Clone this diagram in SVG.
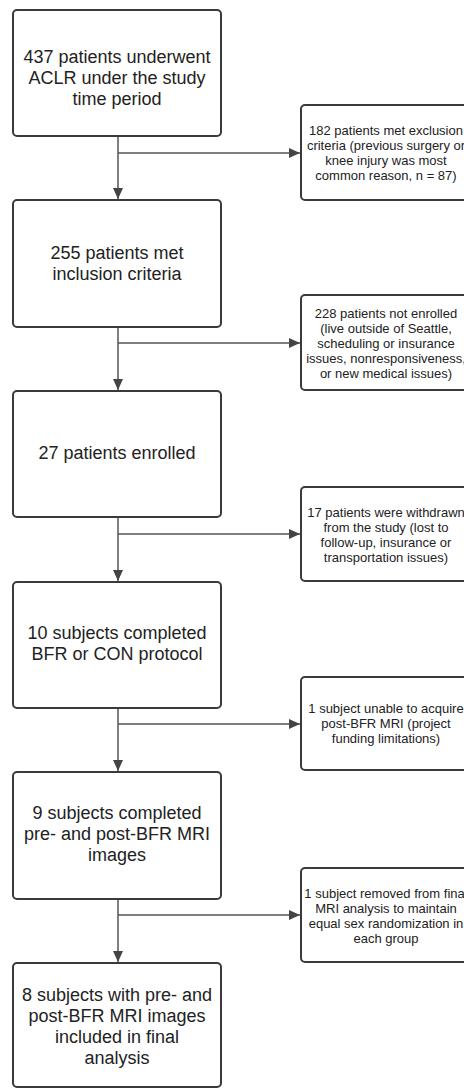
<svg xmlns="http://www.w3.org/2000/svg" width="464" height="1089" viewBox="0 0 464 1089">
  <style>
    .box { fill: #ffffff; stroke: #3a3a3a; stroke-width: 2; }
    .main { font-family: "Liberation Sans", Arial, sans-serif; font-size: 18px; fill: #222222; text-anchor: middle; }
    .side { font-family: "Liberation Sans", Arial, sans-serif; font-size: 13px; fill: #222222; text-anchor: middle; }
    .conn { stroke: #555555; stroke-width: 1.5; fill: none; }
  </style>
  <defs>
    <marker id="arrow" markerUnits="userSpaceOnUse" markerWidth="12" markerHeight="10" refX="11" refY="5" orient="auto">
      <path d="M0,0 L11,5 L0,10 z" fill="#444444"/>
    </marker>
  </defs>
  <rect width="464" height="1089" fill="#ffffff"/>

  <g id="connectors">
    <line class="conn" x1="118" y1="136" x2="118" y2="199" marker-end="url(#arrow)"/>
    <line class="conn" x1="118" y1="153" x2="300" y2="153" marker-end="url(#arrow)"/>
    <line class="conn" x1="118" y1="327" x2="118" y2="390" marker-end="url(#arrow)"/>
    <line class="conn" x1="118" y1="343" x2="300" y2="343" marker-end="url(#arrow)"/>
    <line class="conn" x1="118" y1="517" x2="118" y2="581" marker-end="url(#arrow)"/>
    <line class="conn" x1="118" y1="534" x2="300" y2="534" marker-end="url(#arrow)"/>
    <line class="conn" x1="118" y1="708" x2="118" y2="771" marker-end="url(#arrow)"/>
    <line class="conn" x1="118" y1="724" x2="300" y2="724" marker-end="url(#arrow)"/>
    <line class="conn" x1="118" y1="899" x2="118" y2="962" marker-end="url(#arrow)"/>
    <line class="conn" x1="118" y1="915" x2="300" y2="915" marker-end="url(#arrow)"/>
  </g>

  <g id="n1">
    <rect class="box" x="13" y="10" width="208" height="126" rx="4"/>
    <text class="main" x="117" y="62.5">437 patients underwent</text>
    <text class="main" x="117" y="83.5">ACLR under the study</text>
    <text class="main" x="117" y="104.5">time period</text>
  </g>
  <g id="s1">
    <rect class="box" x="301" y="105" width="176" height="95" rx="4"/>
    <text class="side" x="386" y="134.5">182 patients met exclusion</text>
    <text class="side" x="386" y="149.5">criteria (previous surgery or</text>
    <text class="side" x="386" y="164.5">knee injury was most</text>
    <text class="side" x="386" y="179.5">common reason, n = 87)</text>
  </g>

  <g id="n2">
    <rect class="box" x="13" y="200" width="208" height="127" rx="4"/>
    <text class="main" x="117" y="259">255 patients met</text>
    <text class="main" x="117" y="280">inclusion criteria</text>
  </g>
  <g id="s2">
    <rect class="box" x="301" y="295" width="176" height="95" rx="4"/>
    <text class="side" x="386" y="317.5">228 patients not enrolled</text>
    <text class="side" x="386" y="332.5">(live outside of Seattle,</text>
    <text class="side" x="386" y="347.5">scheduling or insurance</text>
    <text class="side" x="386" y="362.5">issues, nonresponsiveness,</text>
    <text class="side" x="386" y="377.5">or new medical issues)</text>
  </g>

  <g id="n3">
    <rect class="box" x="13" y="391" width="208" height="126" rx="4"/>
    <text class="main" x="117" y="459">27 patients enrolled</text>
  </g>
  <g id="s3">
    <rect class="box" x="301" y="487" width="176" height="94" rx="4"/>
    <text class="side" x="386" y="516.5">17 patients were withdrawn</text>
    <text class="side" x="386" y="531.5">from the study (lost to</text>
    <text class="side" x="386" y="546.5">follow-up, insurance or</text>
    <text class="side" x="386" y="561.5">transportation issues)</text>
  </g>

  <g id="n4">
    <rect class="box" x="13" y="582" width="208" height="126" rx="4"/>
    <text class="main" x="117" y="639">10 subjects completed</text>
    <text class="main" x="117" y="660">BFR or CON protocol</text>
  </g>
  <g id="s4">
    <rect class="box" x="301" y="677" width="176" height="93" rx="4"/>
    <text class="side" x="386" y="712.5">1 subject unable to acquire</text>
    <text class="side" x="386" y="727.5">post-BFR MRI (project</text>
    <text class="side" x="386" y="742.5">funding limitations)</text>
  </g>

  <g id="n5">
    <rect class="box" x="13" y="772" width="208" height="127" rx="4"/>
    <text class="main" x="117" y="819">9 subjects completed</text>
    <text class="main" x="117" y="840">pre- and post-BFR MRI</text>
    <text class="main" x="117" y="861">images</text>
  </g>
  <g id="s5">
    <rect class="box" x="301" y="868" width="176" height="94" rx="4"/>
    <text class="side" x="386" y="897.5">1 subject removed from final</text>
    <text class="side" x="386" y="912.5">MRI analysis to maintain</text>
    <text class="side" x="386" y="927.5">equal sex randomization in</text>
    <text class="side" x="386" y="942.5">each group</text>
  </g>

  <g id="n6">
    <rect class="box" x="13" y="963" width="208" height="124" rx="4"/>
    <text class="main" x="117" y="1001">8 subjects with pre- and</text>
    <text class="main" x="117" y="1022">post-BFR MRI images</text>
    <text class="main" x="117" y="1043">included in final</text>
    <text class="main" x="117" y="1064">analysis</text>
  </g>
</svg>
